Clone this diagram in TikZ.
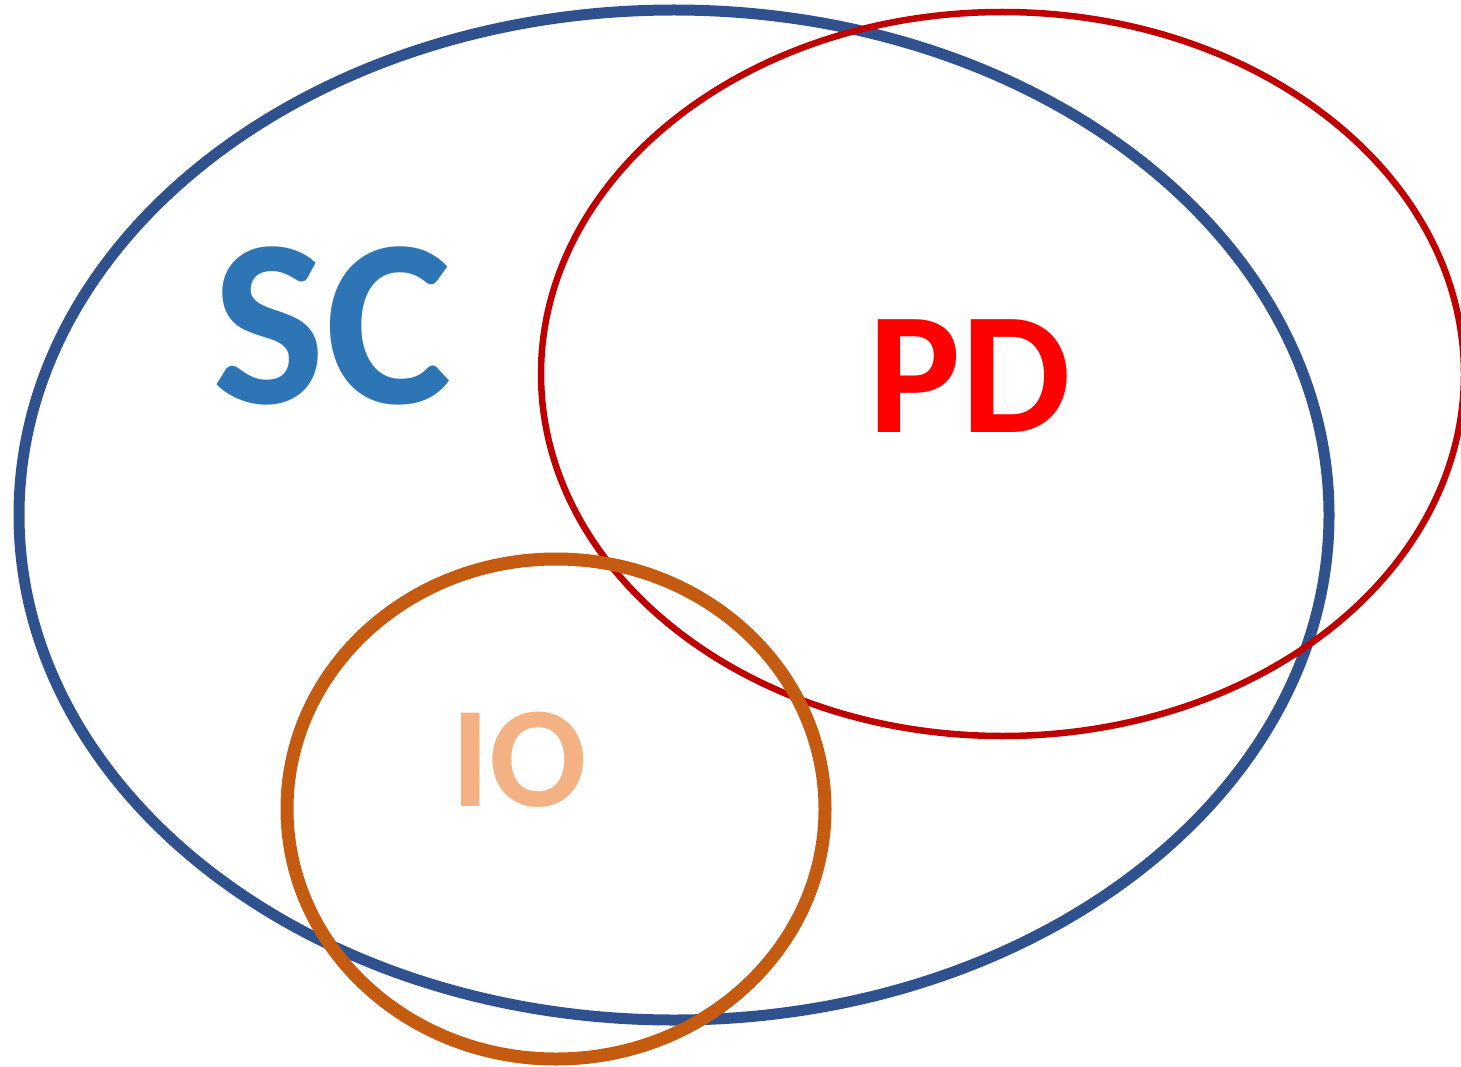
\documentclass[tikz,border=0pt]{standalone}
\usepackage{fontspec}
\setmainfont{Carlito}
\definecolor{scblue}{HTML}{2F528F}
\definecolor{sctext}{HTML}{2E75B6}
\definecolor{pdred}{HTML}{C00000}
\definecolor{pdtext}{HTML}{FF0000}
\definecolor{ioorange}{HTML}{C55A11}
\definecolor{iotext}{HTML}{F4B183}
\begin{document}
\begin{tikzpicture}[x=1pt,y=-1pt,
  lbl/.style={inner sep=0pt, anchor=base, font=\bfseries}]
\useasboundingbox (0,0) rectangle (1461,1067);
\clip (0,0) rectangle (1461,1067);
\draw[scblue, line width=11pt] (674,515) ellipse [x radius=655, y radius=505];
\draw[pdred, line width=6.5pt] (1002.5,374) ellipse [x radius=461.5, y radius=362];
\draw[ioorange, line width=13pt] (556,809) ellipse [x radius=269, y radius=250];
\node[lbl, text=sctext, font=\fontsize{239}{239}\selectfont\bfseries] (sc) at (332,403) {SC};
\node[lbl, text=pdtext, font=\fontsize{174}{174}\selectfont\bfseries] (pd) at (970,432) {PD};
\node[lbl, text=iotext, font=\fontsize{144}{144}\selectfont\bfseries] (io) at (519,806) {IO};
\end{tikzpicture}
\end{document}
